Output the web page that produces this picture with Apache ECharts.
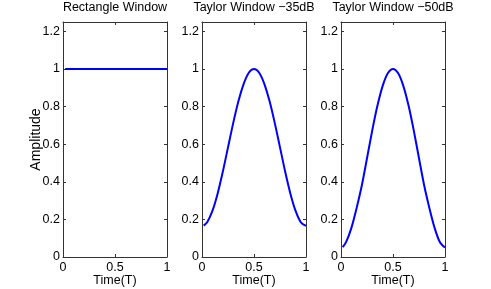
<!DOCTYPE html>
<html>
<head>
<meta charset="utf-8">
<script src="https://cdn.jsdelivr.net/npm/echarts@6/dist/echarts.min.js"></script>
<style>html,body{margin:0;padding:0;background:#fff;}#c{width:491px;height:289px;}</style>
</head>
<body>
<div id="c"></div>
<script>
var titles = ['Rectangle Window', 'Taylor Window \u221235dB', 'Taylor Window \u221250dB'];
var xTicks = [0, 0.5, 1];
var yTicks = [0, 0.2, 0.4, 0.6, 0.8, 1, 1.2];
var rectX = [0.02, 1.0];
var rectY = [1, 1];
var taylorX = [0.016, 0.05, 0.1, 0.15, 0.2, 0.25, 0.3, 0.35, 0.4, 0.45, 0.5, 0.55, 0.6, 0.65, 0.7, 0.75, 0.8, 0.85, 0.9, 0.95, 1.0];
var taylor35 = [0.167, 0.185, 0.245, 0.337, 0.453, 0.583, 0.712, 0.828, 0.920, 0.980, 1.0, 0.980, 0.920, 0.828, 0.712, 0.583, 0.453, 0.337, 0.245, 0.185, 0.165];
var taylor50 = [0.052, 0.08, 0.155, 0.26, 0.38, 0.525, 0.672, 0.804, 0.909, 0.977, 1.0, 0.977, 0.909, 0.804, 0.672, 0.525, 0.38, 0.26, 0.155, 0.08, 0.05];

function pairs(xs, ys) { return xs.map(function (x, i) { return [x, ys[i]]; }); }
var seriesData = [pairs(rectX, rectY), pairs(taylorX, taylor35), pairs(taylorX, taylor50)];

var FONT = 'Liberation Sans';
var lefts = [63, 202, 341];
var grids = [], xAxes = [], yAxes = [], series = [], titleOpts = [];
var axisLineStyle = { color: '#333', width: 1 };
for (var i = 0; i < 3; i++) {
  grids.push({ left: lefts[i], width: 104, top: 22, bottom: 32, show: false, outerBoundsMode: 'none', containLabel: false });
  titleOpts.push({ text: titles[i], left: lefts[i] + 52, top: 1, padding: 0, textAlign: 'center',
    textStyle: { fontFamily: FONT, fontSize: 12.5, fontWeight: 'normal', color: '#000' } });
  // bottom x
  xAxes.push({ gridIndex: i, type: 'value', position: 'bottom', min: 0, max: 1, interval: 0.5,
    axisLine: { show: true, onZero: false, lineStyle: axisLineStyle },
    axisTick: { show: true, inside: true, length: 3, lineStyle: axisLineStyle },
    axisLabel: { margin: 4, fontFamily: FONT, fontSize: 12.5, color: '#000',
      formatter: function (v) { return xTicks.indexOf(v) >= 0 ? String(v) : ''; } },
    splitLine: { show: false },
    name: 'Time(T)', nameLocation: 'middle', nameGap: 17, nameMoveOverlap: false,
    nameTextStyle: { fontFamily: FONT, fontSize: 12.5, color: '#000' } });
  // top x
  xAxes.push({ gridIndex: i, type: 'value', position: 'top', min: 0, max: 1, interval: 0.5,
    axisLine: { show: true, onZero: false, lineStyle: axisLineStyle },
    axisTick: { show: true, inside: true, length: 3, lineStyle: axisLineStyle },
    axisLabel: { show: false }, splitLine: { show: false } });
  // left y
  yAxes.push({ gridIndex: i, type: 'value', position: 'left', min: 0, max: 1.25, interval: 0.2,
    axisLine: { show: true, onZero: false, lineStyle: axisLineStyle },
    axisTick: { show: true, inside: true, length: 3, lineStyle: axisLineStyle },
    axisLabel: { margin: 3, fontFamily: FONT, fontSize: 12.5, color: '#000', showMaxLabel: false,
      formatter: function (v) { return v > 1.21 ? '' : String(Math.round(v * 10) / 10); } },
    splitLine: { show: false },
    name: i === 0 ? 'Amplitude' : '', nameLocation: 'middle', nameGap: 20, nameMoveOverlap: false,
    nameTextStyle: { fontFamily: FONT, fontSize: 14, color: '#000' } });
  // right y
  yAxes.push({ gridIndex: i, type: 'value', position: 'right', min: 0, max: 1.25, interval: 0.2,
    axisLine: { show: true, onZero: false, lineStyle: axisLineStyle },
    axisTick: { show: true, inside: true, length: 3, lineStyle: axisLineStyle },
    axisLabel: { show: false }, splitLine: { show: false } });
  series.push({ type: 'line', xAxisIndex: i * 2, yAxisIndex: i * 2, data: seriesData[i],
    smooth: i > 0 ? 0.3 : false, showSymbol: false, symbol: 'none', animation: false,
    lineStyle: { color: '#0000ff', width: 2 } });
}
var chart = echarts.init(document.getElementById('c'), null, { renderer: 'canvas' });
chart.setOption({
  animation: false,
  title: titleOpts,
  grid: grids,
  xAxis: xAxes,
  yAxis: yAxes,
  series: series
});
</script>
</body>
</html>
